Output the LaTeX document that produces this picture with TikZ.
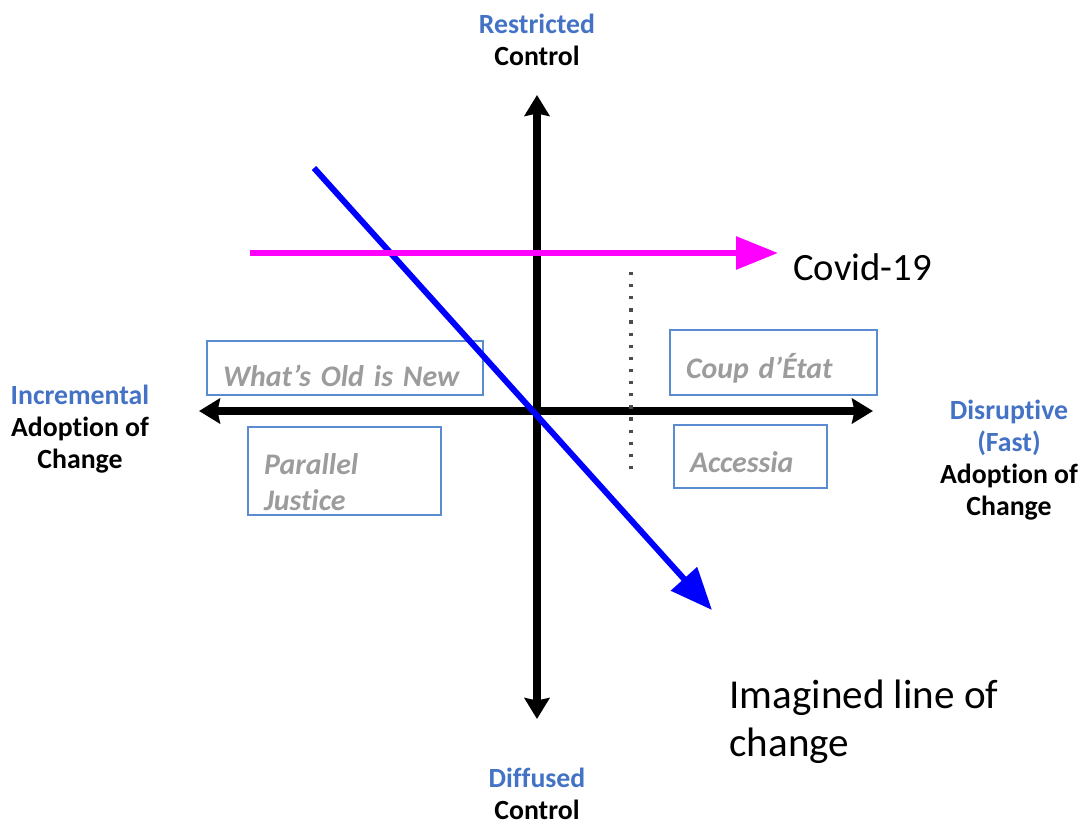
\documentclass[tikz,border=0pt]{standalone}
\usepackage{fontspec}
\setmainfont{Carlito}[Ligatures=NoCommon]
\usepackage{tikz}
\usetikzlibrary{arrows.meta, positioning}

\definecolor{lblblue}{HTML}{4472C4}
\definecolor{boxblue}{HTML}{5B8BD0}
\definecolor{scengray}{HTML}{9C9C9C}
\definecolor{covmag}{HTML}{FF00FF}
\definecolor{chgblue}{HTML}{0000FF}

\begin{document}
\begin{tikzpicture}[
    x=0.02cm, y=-0.02cm,
    axlbl/.style={inner sep=0pt, align=center, font=\fontsize{15.8pt}{18.1pt}\selectfont\bfseries},
    biglbl/.style={inner sep=0pt, align=left, font=\fontsize{22pt}{27.2pt}\selectfont},
    scen/.style={draw=boxblue, line width=0.8pt, inner xsep=0.32cm, inner ysep=0pt, align=left,
      text=scengray, font=\fontsize{17pt}{20.4pt}\selectfont\bfseries\itshape},
    axis/.style={line width=4.5pt, {Stealth[length=0.42cm,width=0.5cm,inset=0.05cm]}-{Stealth[length=0.42cm,width=0.5cm,inset=0.05cm]}}
  ]
  \useasboundingbox (0,0) rectangle (1083,825);

  % scenario boxes
  \node[scen, text width=4.88cm, minimum height=1.08cm, text height=0.82cm, text depth=0.1cm] (oldnew) at (345,368) {What’s Old is New};
  \node[scen, text width=3.22cm, minimum height=1.76cm, text height=0.88cm] (parallel) at (344.5,471) {Parallel\\Justice};
  \node[scen, text width=3.50cm, minimum height=1.30cm, text height=0.72cm, text depth=0.1cm] (coup) at (773.5,362.5) {Coup d’État};
  \node[scen, text width=2.42cm, minimum height=1.26cm, text height=0.72cm, text depth=0.1cm] (accessia) at (750.5,456.5) {Accessia};

  % axis labels
  \node[axlbl] (restricted) at (537,40) {\textcolor{lblblue}{Restricted}\\Control};
  \node[axlbl] (diffused) at (537,794) {\textcolor{lblblue}{Diffused}\\Control};
  \node[axlbl] (incremental) at (80,429) {\textcolor{lblblue}{Incremental}\\Adoption of\\Change};
  \node[axlbl] (disruptive) at (1009,460) {\textcolor{lblblue}{Disruptive}\\\textcolor{lblblue}{(Fast)}\\Adoption of\\Change};

  \node[biglbl, anchor=west] (covid) at (793,267) {Covid-19};
  \node[biglbl, anchor=west, font=\fontsize{23.4pt}{27.2pt}\selectfont] (imagined) at (729,722) {Imagined line of\\change};

  % axes
  \coordinate (vtop) at (537,95);
  \coordinate (vbot) at (537,719);
  \coordinate (hleft) at (199,411);
  \coordinate (hright) at (873,411);
  \draw[axis] (vbot) -- (vtop);
  \draw[axis] (hleft) -- (hright);

  % dotted divider
  \coordinate (dottop) at (631,272);
  \coordinate (dotbot) at (631,478);
  \draw[black!70, line width=1.8pt, dash pattern=on 1.8pt off 5.1pt] (dottop) -- (dotbot);

  % imagined line of change
  \coordinate (chgstart) at (314,168);
  \coordinate (chgend) at (712,610);
  \draw[chgblue, line width=3.4pt, -{Triangle[length=0.84cm,width=0.68cm]}] (chgstart) -- (chgend);

  % covid arrow
  \coordinate (covstart) at (250,253);
  \draw[covmag, line width=3.4pt, -{Triangle[length=0.84cm,width=0.64cm]}, shorten >=0.3cm] (covstart) -- (covid.west |- covstart);
\end{tikzpicture}
\end{document}
